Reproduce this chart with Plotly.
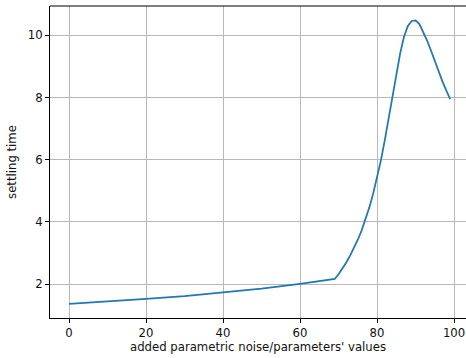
import plotly.graph_objects as go

# Data
x_vals = [0, 10, 20, 30, 40, 50, 60, 65, 69,
          70, 71, 72, 73, 74, 75, 76, 77, 78, 79,
          80, 81, 82, 83, 84, 85, 86, 87, 88, 89,
          90, 91, 92, 93, 94, 95, 96, 97, 98, 99]
settling_time = [1.37, 1.445, 1.53, 1.62, 1.73, 1.86, 2.01, 2.09, 2.17,
                 2.32, 2.50, 2.70, 2.92, 3.16, 3.43, 3.73, 4.07, 4.47, 4.92,
                 5.42, 5.98, 6.62, 7.32, 8.02, 8.75, 9.42, 9.95, 10.30, 10.46,
                 10.48, 10.36, 10.11, 9.83, 9.51, 9.16, 8.82, 8.51, 8.22, 7.95]

x_ticks = [0, 20, 40, 60, 80, 100]
y_ticks = [2, 4, 6, 8, 10]

FONT = "DejaVu Sans"
FS = 11.7

fig = go.Figure()
fig.add_trace(go.Scatter(x=x_vals, y=settling_time, mode="lines",
                         line=dict(color="#1f77b4", width=1.75),
                         showlegend=False, hoverinfo="skip"))

axis_common = dict(
    showgrid=True, gridcolor="#b8b8b8", gridwidth=0.95,
    zeroline=False, showline=True, linecolor="black", linewidth=1,
    ticks="outside", ticklen=4, tickwidth=1, tickcolor="black",
    tickfont=dict(family=FONT, size=FS, color="#111"),
)

fig.update_layout(
    width=466, height=358,
    margin=dict(l=50, r=0, t=6, b=40),
    paper_bgcolor="white", plot_bgcolor="white",
    font=dict(family=FONT, size=FS, color="#111"),
    xaxis=dict(range=[-4.95, 103.1], tickvals=x_ticks,
               title=dict(text="added parametric noise/parameters' values",
                          font=dict(family=FONT, size=FS), standoff=3),
               **axis_common),
    yaxis=dict(range=[0.915, 10.94], tickvals=y_ticks,
               title=dict(text="settling time",
                          font=dict(family=FONT, size=FS), standoff=8),
               **axis_common),
    shapes=[dict(type="line", xref="paper", yref="paper", x0=0, x1=1, y0=1, y1=1,
                 line=dict(color="black", width=1))],
)

fig.write_html("out.html", config={"displayModeBar": False},
               post_script="document.body.style.margin='0';document.body.style.overflow='hidden';")
